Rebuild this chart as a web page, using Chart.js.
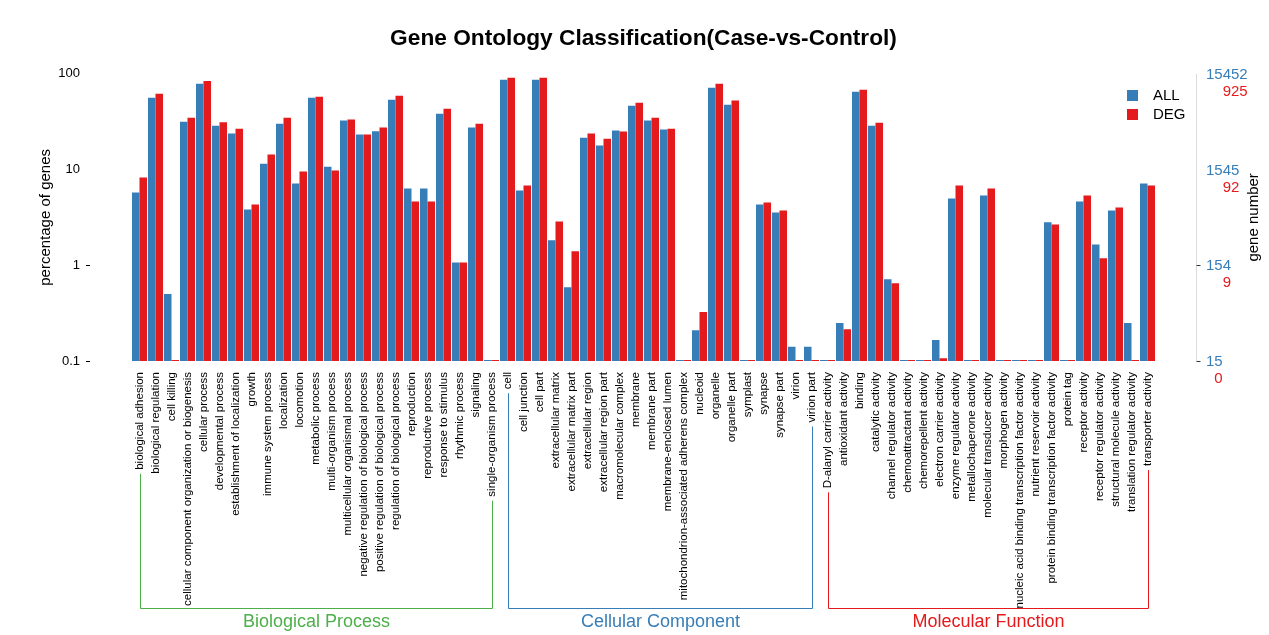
<!DOCTYPE html>
<html lang="en">
<head>
<meta charset="UTF-8">
<title>Gene Ontology Classification</title>
<script src="https://cdn.jsdelivr.net/npm/chart.js"></script>
<style>
  body { margin: 0; background: #fff; }
  #wrap { width: 1269px; height: 635px; position: relative; }
</style>
</head>
<body>
<div id="wrap"><canvas id="go"></canvas></div>
<script>
// GO terms, in plotting order
const terms = [
  'biological adhesion', 'biological regulation', 'cell killing',
  'cellular component organization or biogenesis', 'cellular process',
  'developmental process', 'establishment of localization', 'growth',
  'immune system process', 'localization', 'locomotion', 'metabolic process',
  'multi-organism process', 'multicellular organismal process',
  'negative regulation of biological process', 'positive regulation of biological process',
  'regulation of biological process', 'reproduction', 'reproductive process',
  'response to stimulus', 'rhythmic process', 'signaling', 'single-organism process',
  'cell', 'cell junction', 'cell part', 'extracellular matrix', 'extracellular matrix part',
  'extracellular region', 'extracellular region part', 'macromolecular complex',
  'membrane', 'membrane part', 'membrane-enclosed lumen',
  'mitochondrion-associated adherens complex', 'nucleoid', 'organelle', 'organelle part',
  'symplast', 'synapse', 'synapse part', 'virion', 'virion part',
  'D-alanyl carrier activity', 'antioxidant activity', 'binding', 'catalytic activity',
  'channel regulator activity', 'chemoattractant activity', 'chemorepellent activity',
  'electron carrier activity', 'enzyme regulator activity', 'metallochaperone activity',
  'molecular transducer activity', 'morphogen activity',
  'nucleic acid binding transcription factor activity', 'nutrient reservoir activity',
  'protein binding transcription factor activity', 'protein tag', 'receptor activity',
  'receptor regulator activity', 'structural molecule activity',
  'translation regulator activity', 'transporter activity'
];

const groups = ['Biological Process', 'Cellular Component', 'Molecular Function'];
const groupSizes = [23, 20, 21];

// percentage of genes
const pctAll = [
  5.76, 56.2, 0.5, 31.6, 78.7, 28.7, 23.7, 3.83, 11.5, 30.1, 7.15, 56.2,
  10.7, 32.4, 23.2, 25.1, 53.6, 6.34, 6.34, 38.3, 1.07, 27.4, 0,
  86.6, 6.04, 86.6, 1.82, 0.59, 21.5, 17.8, 25.5, 46.4, 32.4, 26.1,
  0, 0.21, 71.4, 47.5, 0, 4.32, 3.56, 0.141, 0.141,
  0, 0.249, 64.9, 28.7, 0.715, 0, 0, 0.166, 4.99, 0, 5.36, 0,
  0, 0, 2.81, 0, 4.64, 1.65, 3.74, 0.249, 7.15
];
const pctDeg = [
  8.25, 61.9, 0, 34.8, 84, 31.1, 26.7, 4.32, 14.3, 34.8, 9.53, 57.5,
  9.77, 33.2, 23.2, 27.4, 59, 4.64, 4.64, 43.2, 1.07, 30.1, 0,
  90.8, 6.81, 90.8, 2.87, 1.4, 23.7, 21.0, 24.9, 49.9, 34.8, 26.7,
  0, 0.324, 78.7, 52.4, 0, 4.53, 3.74, 0, 0,
  0, 0.215, 68.1, 30.8, 0.649, 0, 0, 0.107, 6.81, 0, 6.34, 0,
  0, 0, 2.67, 0, 5.36, 1.18, 4.02, 0, 6.81
];

// axis ticks: percent on the left, gene numbers on the right
const pctTicks = [100, 10, 1, 0.1];
const allTicks = ['15452', '1545', '154', '15'];
const degTicks = ['925', '92', '9', '0'];

const BLUE = '#377eb8', RED = '#e41a1c', GREEN = '#4daf4a';
const groupColors = [GREEN, BLUE, RED];
const FONT = '"Liberation Sans", Arial, sans-serif';
const FLOOR = 0.1; // log axis can't show 0, zero terms sit on the floor

Chart.defaults.font.family = FONT;
Chart.defaults.color = '#000';

const extras = {
  id: 'extras',
  afterDraw(chart) {
    const ctx = chart.ctx;
    const xs = chart.scales.x, ys = chart.scales.y;
    const area = chart.chartArea;
    ctx.save();

    // small dashes next to the lower left labels
    ctx.strokeStyle = '#000';
    ctx.lineWidth = 1;
    [1, 0.1].forEach(v => {
      const py = Math.round(ys.getPixelForValue(v)) + 0.5;
      ctx.beginPath(); ctx.moveTo(86, py); ctx.lineTo(90, py); ctx.stroke();
    });

    // right axis (gene number)
    const xr = 1196.5;
    ctx.strokeStyle = '#dcdcdc';
    ctx.beginPath();
    ctx.moveTo(xr, ys.getPixelForValue(100));
    ctx.lineTo(xr, ys.getPixelForValue(0.1));
    ctx.stroke();
    ctx.strokeStyle = '#333';
    [1, 0.1].forEach(v => {
      const py = Math.round(ys.getPixelForValue(v)) + 0.5;
      ctx.beginPath(); ctx.moveTo(xr, py); ctx.lineTo(xr + 4, py); ctx.stroke();
    });
    ctx.font = '15px ' + FONT;
    ctx.textBaseline = 'middle';
    pctTicks.forEach((v, i) => {
      const py = ys.getPixelForValue(v);
      ctx.fillStyle = BLUE;
      ctx.textAlign = 'left';
      ctx.fillText(allTicks[i], 1206, py + 1);
      const w = ctx.measureText(allTicks[i]).width;
      ctx.fillStyle = RED;
      ctx.textAlign = 'right';
      ctx.fillText(degTicks[i], 1206 + w, py + 18);
    });
    ctx.save();
    ctx.translate(1254, (area.top + area.bottom) / 2);
    ctx.rotate(-Math.PI / 2);
    ctx.textAlign = 'center';
    ctx.fillStyle = '#000';
    ctx.fillText('gene number', 0, 0);
    ctx.restore();

    // legend
    const names = ['ALL', 'DEG'];
    [BLUE, RED].forEach((c, i) => {
      const ly = 90 + i * 19;
      ctx.fillStyle = c;
      ctx.fillRect(1127, ly, 11, 11);
      ctx.fillStyle = '#000';
      ctx.textAlign = 'left';
      ctx.fillText(names[i], 1153, ly + 6);
    });

    // group brackets under the term labels
    const labelTop = area.bottom + 11;
    let start = 0;
    groups.forEach((g, k) => {
      const a = start, b = start + groupSizes[k] - 1;
      start += groupSizes[k];
      ctx.font = '11.5px ' + FONT;
      const xa = Math.round(xs.getPixelForValue(a)) + 0.5;
      const xb = Math.round(xs.getPixelForValue(b)) + 0.5;
      const ya = labelTop + ctx.measureText(terms[a]).width + 4;
      const yb = labelTop + ctx.measureText(terms[b]).width + 4;
      const yBot = 608.5;
      ctx.strokeStyle = groupColors[k];
      ctx.beginPath();
      ctx.moveTo(xa, ya); ctx.lineTo(xa, yBot); ctx.lineTo(xb, yBot); ctx.lineTo(xb, yb);
      ctx.stroke();
      ctx.font = '18px ' + FONT;
      ctx.fillStyle = groupColors[k];
      ctx.textAlign = 'center';
      ctx.fillText(g, (xa + xb) / 2, 622);
    });
    ctx.restore();
  }
};

new Chart(document.getElementById('go'), {
  type: 'bar',
  data: {
    labels: terms,
    datasets: [
      { label: 'ALL', data: pctAll.map(v => v || FLOOR), backgroundColor: BLUE },
      { label: 'DEG', data: pctDeg.map(v => v || FLOOR), backgroundColor: RED }
    ]
  },
  options: {
    responsive: true,
    maintainAspectRatio: false,
    animation: false,
    categoryPercentage: 0.94,
    barPercentage: 1,
    minBarLength: 1,
    layout: { padding: { left: 18 } },
    plugins: {
      legend: { display: false },
      tooltip: { enabled: false },
      title: {
        display: true,
        text: 'Gene Ontology Classification(Case-vs-Control)',
        font: { size: 22.7, weight: 'bold' },
        color: '#000',
        padding: { top: 25, bottom: 21.5 }
      }
    },
    scales: {
      x: {
        grid: { display: false, drawTicks: false },
        border: { display: false },
        ticks: {
          autoSkip: false, minRotation: 90, maxRotation: 90,
          padding: 11, color: '#000', font: { size: 11.5 }
        },
        afterFit(s) { s.height = 274; }
      },
      y: {
        type: 'logarithmic',
        min: 0.1,
        max: 100,
        grid: { display: false, drawTicks: false },
        border: { display: false },
        afterBuildTicks(s) { s.ticks = pctTicks.map(v => ({ value: v })); },
        ticks: { callback: v => String(v), padding: 51.5, color: '#000', font: { size: 13 } },
        title: {
          display: true, text: 'percentage of genes', color: '#000',
          font: { size: 15 }, padding: { top: 19, bottom: 0 }
        },
        afterFit(s) { s.width = 113.5; }
      },
      y2: {
        position: 'right',
        grid: { display: false, drawTicks: false },
        border: { display: false },
        ticks: { display: false },
        afterFit(s) { s.width = 113.5; }
      }
    }
  },
  plugins: [extras]
});
</script>
</body>
</html>
